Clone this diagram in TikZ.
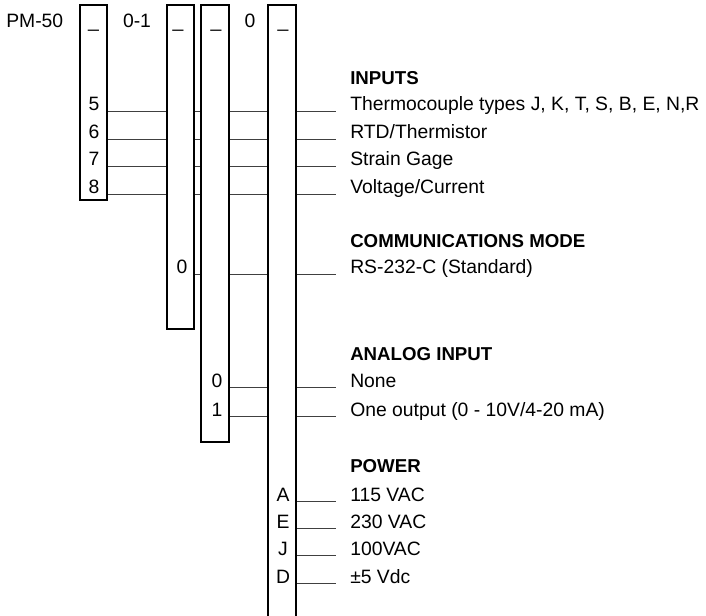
\documentclass[tikz,border=0pt]{standalone}
\usepackage{fontspec}
\setmainfont{Liberation Sans}
\begin{document}
\begin{tikzpicture}[x=0.75pt,y=-0.75pt,
  every node/.style={font=\fontsize{14.5}{17}\selectfont, inner sep=0pt},
  bar/.style={draw, fill=white, line width=0.9pt},
  row/.style={line width=0.5pt, black!75},
  head/.style={anchor=base west, font=\fontsize{14}{17}\selectfont\bfseries},
  item/.style={anchor=base west},
  code/.style={anchor=base}]
\useasboundingbox (0,0) rectangle (706,616);
% corners of the four code columns
\coordinate (b1nw) at (80,5);   \coordinate (b1se) at (107,200);
\coordinate (b2nw) at (167,5);  \coordinate (b2se) at (194,329);
\coordinate (b3nw) at (201,5);  \coordinate (b3se) at (229,442);
\coordinate (b4nw) at (268,5);  \coordinate (b4se) at (296,616);
% option texts
\node[head] (hin) at (350,85) {INPUTS};
\node[item] (t5) at (350,111) {Thermocouple types J, K, T, S, B, E, N,R};
\node[item] (t6) at (350,139) {RTD/Thermistor};
\node[item] (t7) at (350,166) {Strain Gage};
\node[item] (t8) at (350,194) {Voltage/Current};
\node[head] (hcom) at (350,248) {COMMUNICATIONS MODE};
\node[item] (tc0) at (350,274) {RS-232-C (Standard)};
\node[head] (han) at (350,360) {ANALOG INPUT};
\node[item] (ta0) at (350,387) {None};
\node[item] (ta1) at (350,416) {One output (0 - 10V/4-20 mA)};
\node[head] (hpw) at (350,472) {POWER};
\node[item] (tpA) at (350,501) {115 VAC};
\node[item] (tpE) at (350,528) {230 VAC};
\node[item] (tpJ) at (350,555) {100VAC};
\node[item] (tpD) at (350,583) {±5 Vdc};
% leader lines, drawn under the columns
\draw[row] (b1se |- t5.base) -- ([xshift=-10.5pt]t5.base west);
\draw[row] (b1se |- t6.base) -- ([xshift=-10.5pt]t6.base west);
\draw[row] (b1se |- t7.base) -- ([xshift=-10.5pt]t7.base west);
\draw[row] (b1se |- t8.base) -- ([xshift=-10.5pt]t8.base west);
\draw[row] (b2se |- tc0.base) -- ([xshift=-10.5pt]tc0.base west);
\draw[row] (b3se |- ta0.base) -- ([xshift=-10.5pt]ta0.base west);
\draw[row] (b3se |- ta1.base) -- ([xshift=-10.5pt]ta1.base west);
\draw[row] (b4se |- tpA.base) -- ([xshift=-10.5pt]tpA.base west);
\draw[row] (b4se |- tpE.base) -- ([xshift=-10.5pt]tpE.base west);
\draw[row] (b4se |- tpJ.base) -- ([xshift=-10.5pt]tpJ.base west);
\draw[row] (b4se |- tpD.base) -- ([xshift=-10.5pt]tpD.base west);
% columns
\draw[bar] (b1nw) rectangle (b1se);
\draw[bar] (b2nw) rectangle (b2se);
\draw[bar] (b3nw) rectangle (b3se);
\fill[white] (b4nw) rectangle (b4se);
\draw[line width=0.9pt] (b4nw |- b4se) -- (b4nw) -- (b4se |- b4nw) -- (b4se);
% ordering code
\node[anchor=base west] (pm) at (6,28) {PM-50};
\node[code] (u1) at (93.5,28) {\_};
\node[code] (g1) at (137,28) {0-1};
\node[code] (u2) at (178,28) {\_};
\node[code] (u3) at (216,28) {\_};
\node[code] (g3) at (250,28) {0};
\node[code] (u4) at (283,28) {\_};
% codes in the columns
\node[code] (c5) at (94,111) {5};
\node[code] (c6) at (94,139) {6};
\node[code] (c7) at (94,166) {7};
\node[code] (c8) at (94,194) {8};
\node[code] (cc0) at (182,274) {0};
\node[code] (ca0) at (217,387) {0};
\node[code] (ca1) at (217,416) {1};
\node[code] (cpA) at (283,501) {A};
\node[code] (cpE) at (283,528) {E};
\node[code] (cpJ) at (283,555) {J};
\node[code] (cpD) at (283,583) {D};
\end{tikzpicture}
\end{document}
